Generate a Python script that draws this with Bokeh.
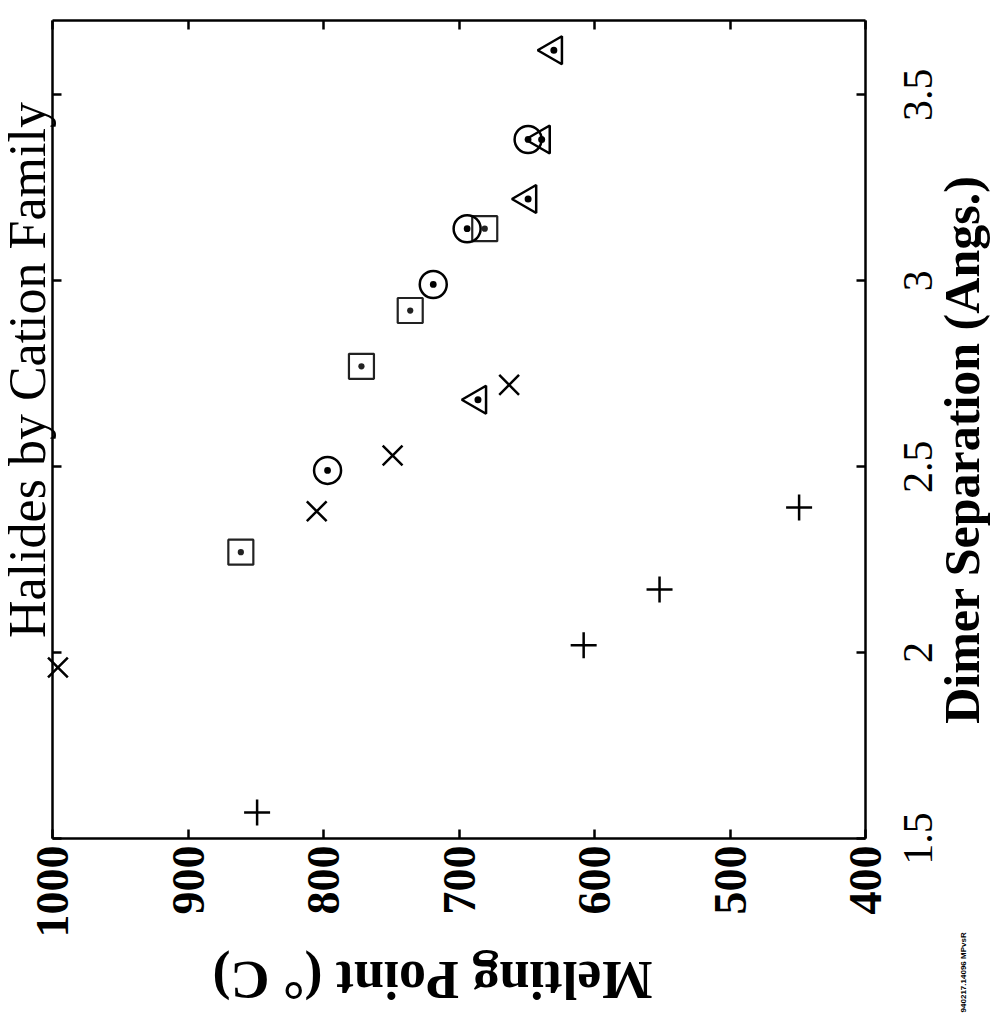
import math
from bokeh.plotting import figure
from bokeh.models import Range1d, LinearAxis, FixedTicker, Label, ColumnDataSource
from bokeh.core.properties import value
from bokeh.embed import file_html
from bokeh.resources import INLINE

# ---- data ----
# Dimer separation (Angs.) and melting point (deg C) per cation family
plus_sep = [1.57, 2.02, 2.17, 2.39]
plus_mp = [849, 608, 552, 449]

cross_sep = [1.96, 2.38, 2.53, 2.72]
cross_mp = [996, 805, 749, 663]

square_sep = [2.27, 2.77, 2.92, 3.14]
square_mp = [861, 772, 736, 681]

circle_sep = [2.49, 2.99, 3.14, 3.38]
circle_mp = [797, 719, 694, 649]

triangle_sep = [2.68, 3.22, 3.38, 3.62]
triangle_mp = [686, 649, 639, 630]

mp_ticks = [400, 500, 600, 700, 800, 900, 1000]
sep_ticks = [1.5, 2, 2.5, 3, 3.5]
sep_tick_labels = ["1.5", "2", "2.5", "3", "3.5"]

MP_MIN, MP_MAX = 400, 1000
SEP_MIN, SEP_MAX = 1.5, 3.7

SERIF = "Liberation Serif"

# The scanned page is rotated 90 degrees: melting point runs horizontally
# (1000 at left, 400 at right), dimer separation runs vertically.
# The frame fills the canvas; the plot box is drawn by bounded axes.
W, H = 992, 1014
box_l, box_r, box_t, box_b = 52, 865, 20, 838
px_per_mp = (box_r - box_l) / (MP_MAX - MP_MIN)
px_per_sep = (box_b - box_t) / (SEP_MAX - SEP_MIN)
x_start = MP_MAX + box_l / px_per_mp
x_end = MP_MIN - (W - box_r) / px_per_mp
y_end = SEP_MAX + box_t / px_per_sep
y_start = SEP_MIN - (H - box_b) / px_per_sep

p = figure(width=W, height=H, output_backend="svg", toolbar_location=None,
           x_range=Range1d(x_start, x_end), y_range=Range1d(y_start, y_end),
           x_axis_location=None, y_axis_location=None, min_border=0)
p.background_fill_color = "white"
p.border_fill_color = "white"
p.outline_line_color = None
p.xgrid.grid_line_color = None
p.ygrid.grid_line_color = None


def box_axis(ticks, loc, bounds, **kw):
    ax = LinearAxis(ticker=FixedTicker(ticks=ticks), fixed_location=loc, bounds=bounds,
                    major_tick_in=9, major_tick_out=0, minor_tick_line_color=None,
                    axis_line_width=2.5, axis_line_color="black",
                    major_tick_line_width=2.5, major_tick_line_color="black", **kw)
    return ax


blank_mp = {t: "" for t in mp_ticks}
blank_sep = {t: "" for t in sep_ticks}

bottom = box_axis(mp_ticks, SEP_MIN, (MP_MIN, MP_MAX),
                  major_label_orientation=math.pi / 2,
                  major_label_text_font=SERIF, major_label_text_font_style="bold",
                  major_label_text_font_size="46px", major_label_text_color="black",
                  major_label_standoff=7)
top = box_axis(mp_ticks, SEP_MAX, (MP_MIN, MP_MAX), major_label_overrides=blank_mp)
left = box_axis(sep_ticks, MP_MAX, (SEP_MIN, SEP_MAX), major_label_overrides=blank_sep)
right = box_axis(sep_ticks, MP_MIN, (SEP_MIN, SEP_MAX), major_label_overrides=blank_sep)
p.add_layout(bottom, "below")
p.add_layout(top, "above")
p.add_layout(left, "left")
p.add_layout(right, "right")

# dimer-separation tick labels, centred on their ticks and reading upwards
sep_label_src = ColumnDataSource(dict(y=sep_ticks, text=sep_tick_labels,
                                      x=[361] * len(sep_ticks)))
p.text(x="x", y="y", text="text", source=sep_label_src, angle=math.pi / 2,
       text_align="center", text_baseline="alphabetic", text_font=value(SERIF),
       text_font_size="42px", text_color="black")

# ---- markers ----
p.scatter(plus_mp, plus_sep, marker="cross", size=26, line_color="black", line_width=2.5)
p.scatter(cross_mp, cross_sep, marker="x", size=28, line_color="black", line_width=2.5)
p.scatter(square_mp, square_sep, marker="square_dot", size=25, line_color="#222222",
          fill_color=None, line_width=2.2)
p.scatter(circle_mp, circle_sep, marker="circle_dot", size=27, line_color="black",
          fill_color=None, line_width=2.5)
p.scatter(triangle_mp, triangle_sep, marker="triangle_dot", size=28, angle=math.pi / 2,
          line_color="black", fill_color=None, line_width=2.5)

# ---- texts ----
p.add_layout(Label(x=1018.5, y=2.76, text="Halides by Cation Family", angle=math.pi / 2,
                   text_align="center", text_baseline="alphabetic", text_font=SERIF,
                   text_font_size="52px", text_color="black"))
p.add_layout(Label(x=329, y=2.546, text="Dimer Separation (Angs.)", angle=math.pi / 2,
                   text_align="center", text_baseline="alphabetic", text_font=SERIF,
                   text_font_style="bold", text_font_size="50px", text_color="black"))
p.add_layout(Label(x=719.6, y=1.1207, text="Melting Point (\u00b0 C)", angle=math.pi,
                   text_align="center", text_baseline="alphabetic", text_font=SERIF,
                   text_font_style="bold", text_font_size="54px", text_color="black"))
p.add_layout(Label(x=328, y=1.14, text="940217.14096 MPvsR", angle=math.pi / 2,
                   text_align="center", text_baseline="middle", text_font="Liberation Sans",
                   text_font_style="bold", text_font_size="8px", text_color="black"))

open("out.html", "w").write(file_html(p, INLINE))
